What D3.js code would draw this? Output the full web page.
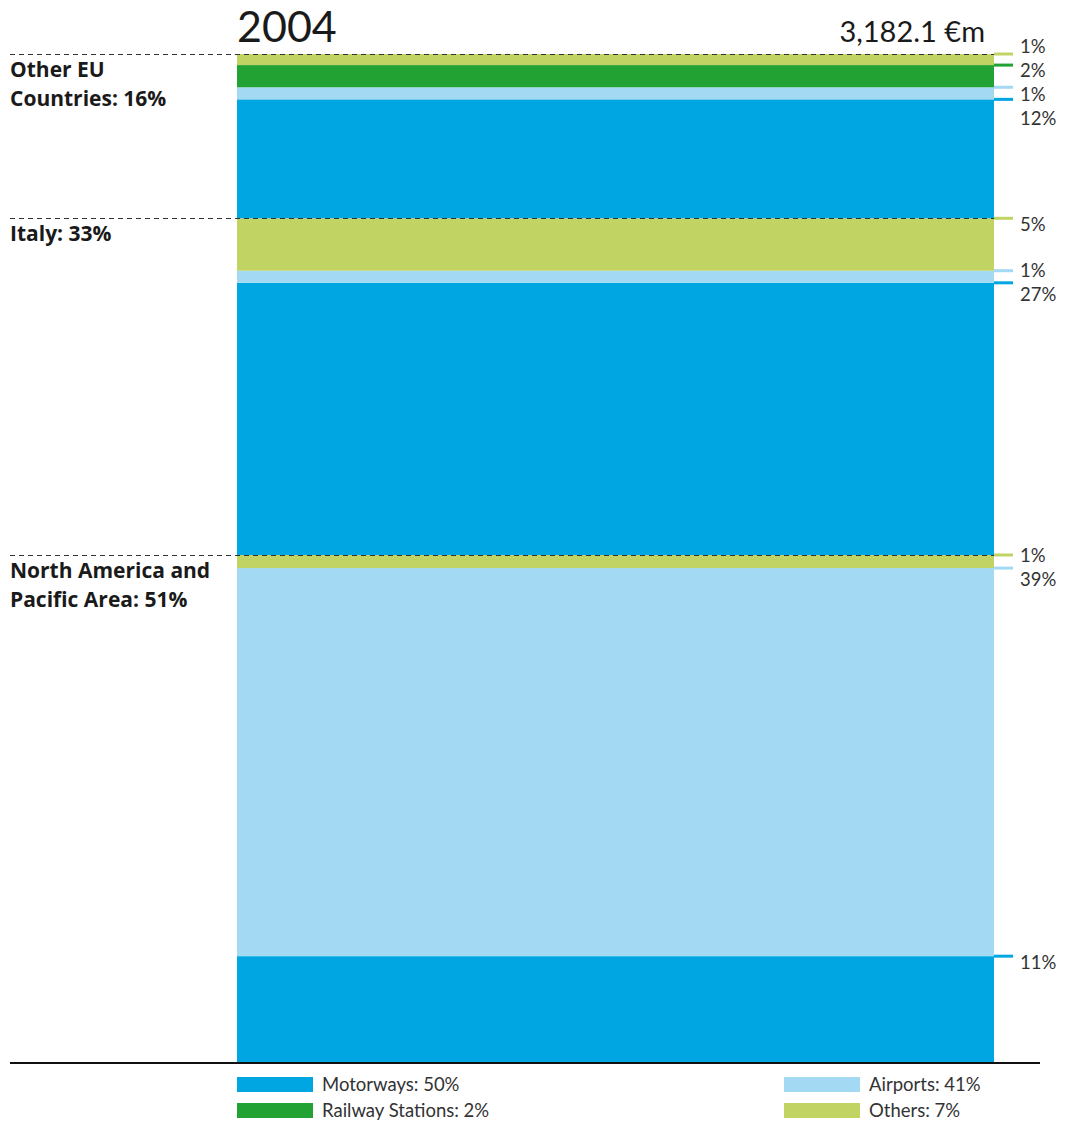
<!DOCTYPE html>
<html>
<head>
<meta charset="utf-8">
<script src="https://cdn.jsdelivr.net/npm/d3@7/dist/d3.min.js"></script>
<style>
  html, body { margin: 0; padding: 0; background: #fff; }
  svg { display: block; }
</style>
</head>
<body>
<svg id="chart" width="1070" height="1124"></svg>
<script>
// ---------- data ----------
const year = "2004";
const totalLabel = "3,182.1 €m";
const regions = ["North America and Pacific Area", "Italy", "Other EU Countries"]; // bottom -> top
const regionLabelLines = [
  ["North America and", "Pacific Area: 51%"],
  ["Italy: 33%"],
  ["Other EU", "Countries: 16%"]
];
const sectors = ["Motorways", "Airports", "Railway Stations", "Others"]; // stacking order bottom -> top
const motorways = [10.5, 27.0, 11.8];   // % of total, per region
const airports  = [38.5, 1.2, 1.2];
const railway   = [0, 0, 2.2];
const others    = [1.3, 5.2, 1.1];
const motorwaysLabels = ["11%", "27%", "12%"];
const airportsLabels  = ["39%", "1%", "1%"];
const railwayLabels   = ["", "", "2%"];
const othersLabels    = ["1%", "5%", "1%"];
const legendLabels = ["Motorways: 50%", "Airports: 41%", "Railway Stations: 2%", "Others: 7%"];
const colors = ["#00a6e2", "#a3d9f3", "#21a232", "#c1d363"];

// ---------- layout ----------
const svg = d3.select("#chart");
const barX0 = 237, barX1 = 994;
const y = d3.scaleLinear().domain([0, 100]).range([1062, 54]);
const color = d3.scaleOrdinal().domain(sectors).range(colors);

const seriesValues = [motorways, airports, railway, others];
const seriesLabels = [motorwaysLabels, airportsLabels, railwayLabels, othersLabels];

// build segments
const segments = [];
let cum = 0;
const groupTops = [];
regions.forEach((r, gi) => {
  const start = cum;
  sectors.forEach((s, si) => {
    const v = seriesValues[si][gi];
    if (v > 0) {
      segments.push({ region: r, gi, sector: s, si, v, y0: cum, y1: cum + v, label: seriesLabels[si][gi] });
      cum += v;
    }
  });
  groupTops.push({ gi, start, end: cum });
});

// bars
svg.append("g").selectAll("rect").data(segments).join("rect")
  .attr("x", barX0)
  .attr("width", barX1 - barX0)
  .attr("y", d => y(d.y1))
  .attr("height", d => y(d.y0) - y(d.y1))
  .attr("fill", d => color(d.sector));

// right-side marker lines and labels (dodged per region)
const lbl = svg.append("g");
regions.forEach((r, gi) => {
  const segs = segments.filter(d => d.gi === gi).slice().reverse(); // top -> bottom
  let prev = -Infinity;
  segs.forEach(d => {
    let ly = y(d.y1);
    if (ly < prev + 11) ly = prev + 11;
    d.lineY = ly; prev = ly;
  });
  const minGap = 24;
  const off = 6;
  let clusters = segs.map(d => ({ items: [d], pos: d.lineY + off }));
  const layout = c => {
    const n = c.items.length;
    return c.items.map((d, i) => c.pos - (n - 1) * minGap / 2 + i * minGap);
  };
  let merged = true;
  while (merged) {
    merged = false;
    for (let i = 0; i < clusters.length - 1; i++) {
      const a = clusters[i], b = clusters[i + 1];
      const la = layout(a), lb = layout(b);
      if (lb[0] - la[la.length - 1] < minGap) {
        const items = a.items.concat(b.items);
        const pos = d3.mean(items, d => d.lineY + off);
        clusters.splice(i, 2, { items, pos });
        merged = true;
        break;
      }
    }
  }
  clusters.forEach(c => {
    const ps = layout(c);
    c.items.forEach((d, i) => { d.labelY = ps[i]; });
  });
  segs.forEach(d => {
    lbl.append("line")
      .attr("x1", barX1).attr("x2", 1013)
      .attr("y1", d.lineY).attr("y2", d.lineY)
      .attr("stroke", color(d.sector)).attr("stroke-width", 3);
    lbl.append("text")
      .attr("x", 1020).attr("y", d.labelY)
      .attr("dy", "0.36em")
      .attr("font-family", "Lato, 'Open Sans', sans-serif")
      .attr("font-size", 18.5)
      .attr("fill", "#333")
      .text(d.label);
  });
});

// dashed region separators
svg.append("g").selectAll("line").data(groupTops).join("line")
  .attr("x1", 10).attr("x2", barX1)
  .attr("y1", d => Math.round(y(d.end)) + 0.5)
  .attr("y2", d => Math.round(y(d.end)) + 0.5)
  .attr("stroke", "#333")
  .attr("stroke-width", 1)
  .attr("stroke-dasharray", "5,4");

// region labels
const rl = svg.append("g");
groupTops.forEach(g => {
  const t = rl.append("text")
    .attr("x", 10)
    .attr("y", y(g.end) + 23)
    .attr("font-family", "'Open Sans', Lato, sans-serif")
    .attr("font-weight", "bold")
    .attr("font-size", 21)
    .attr("fill", "#1a1a1a");
  regionLabelLines[g.gi].forEach((line, i) => {
    t.append("tspan").attr("x", 10).attr("dy", i === 0 ? 0 : 29).text(line);
  });
});

// baseline
svg.append("line")
  .attr("x1", 10).attr("x2", 1040)
  .attr("y1", y(0) + 1).attr("y2", y(0) + 1)
  .attr("stroke", "#111").attr("stroke-width", 2);

// title and total
svg.append("text")
  .attr("x", 237).attr("y", 42)
  .attr("font-family", "Lato, 'Open Sans', sans-serif")
  .attr("font-size", 43)
  .attr("fill", "#1a1a1a")
  .text(year);
svg.append("text")
  .attr("x", 985).attr("y", 42)
  .attr("text-anchor", "end")
  .attr("font-family", "Lato, 'Open Sans', sans-serif")
  .attr("font-size", 29)
  .attr("fill", "#1a1a1a")
  .text(totalLabel);

// legend
const legendOrder = [0, 2, 1, 3];
const legendPos = [
  { x: 237, row: 0 }, { x: 237, row: 1 }, { x: 784, row: 0 }, { x: 784, row: 1 }
];
const legend = svg.append("g");
legendOrder.forEach((si, k) => {
  const p = legendPos[k];
  const yy = 1077 + p.row * 26;
  legend.append("rect")
    .attr("x", p.x).attr("y", yy)
    .attr("width", 76).attr("height", 15)
    .attr("fill", color(sectors[si]));
  legend.append("text")
    .attr("x", p.x + 85).attr("y", yy + 14)
    .attr("font-family", "Lato, 'Open Sans', sans-serif")
    .attr("font-size", 18.5)
    .attr("fill", "#333")
    .text(legendLabels[si]);
});
</script>
</body>
</html>
